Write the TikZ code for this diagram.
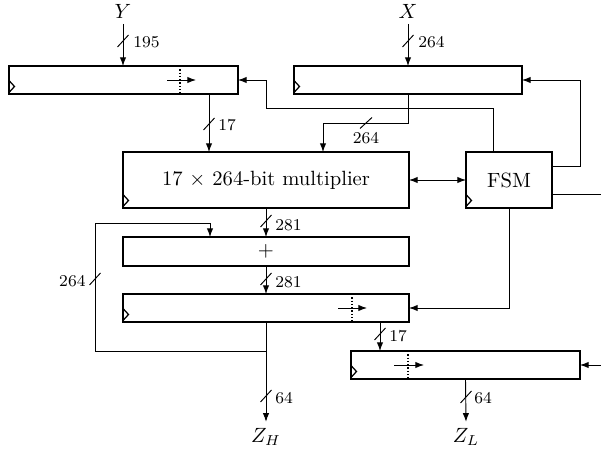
\documentclass[tikz,border=0pt]{standalone}
\usetikzlibrary{arrows.meta,calc}
\def\pxu{0.485pt}
\tikzset{
  x=0.485pt, y=-0.485pt,
  box/.style={draw, line width=0.7pt, inner sep=0pt, outer sep=0pt},
  wire/.style={line width=0.45pt},
  arr/.style={wire, -{Latex[length=4.2pt,width=3.1pt]}},
  darr/.style={wire, {Latex[length=4.2pt,width=3.1pt]}-{Latex[length=4.2pt,width=3.1pt]}},
  shiftmark/.style={line width=0.6pt, densely dotted},
  bus/.style={font=\footnotesize, inner sep=1pt},
  sigin/.style={inner sep=2.4pt},
  sigout/.style={inner sep=3pt},
}
\newcommand\clk[1]{\draw[line width=0.6pt] ($(#1.south west)+(0,-13.5)$) -- ++(5.5,6) -- ++(-5.5,6);}
\newcommand\vslash[2]{\draw[wire] (#1,#2) ++(-5.5,6) -- ++(11,-12);}
\begin{document}
\begin{tikzpicture}
\useasboundingbox (0,0) rectangle (601,449);
% boxes
\node[box, minimum width=229*\pxu, minimum height=28*\pxu] (regY) at (123.5,80) {};
\node[box, minimum width=228*\pxu, minimum height=28*\pxu] (regX) at (408,80) {};
\node[box, minimum width=286*\pxu, minimum height=56*\pxu] (mult) at (266,180) {17 $\times$ 264-bit multiplier};
\node[box, minimum width=86*\pxu, minimum height=56*\pxu] (fsm) at (509,180) {FSM};
\node[box, minimum width=286*\pxu, minimum height=29*\pxu] (add) at (266,251.5) {$+$};
\node[box, minimum width=286*\pxu, minimum height=28*\pxu] (regH) at (266,308) {};
\node[box, minimum width=229*\pxu, minimum height=28*\pxu] (regL) at (465.5,365) {};
% clocks
\clk{regY}\clk{regX}\clk{mult}\clk{fsm}\clk{regH}\clk{regL}
% shift marks
\draw[shiftmark] (regY.north -| 180,0) -- (regY.south -| 180,0);
\draw[arr] (167,80) -- (196,80);
\draw[shiftmark] (regH.north -| 352,0) -- (regH.south -| 352,0);
\draw[arr] (338,308) -- (367,308);
\draw[shiftmark] (regL.north -| 408,0) -- (regL.south -| 408,0);
\draw[arr] (394,365) -- (424,365);
% signal labels
\node[sigin] (Y) at (123,11.5) {$Y$};
\node[sigin] (X) at (408,11.5) {$X$};
\node[sigout] (ZH) at (266,437) {$Z_H$};
\node[sigout] (ZL) at (466,437) {$Z_L$};
\coordinate (fsmout) at (601,194);
\coordinate (inL) at (601,365);
% connectors
\draw[arr] (Y.south) -- (regY.north -| Y.south);
\draw[arr] (X.south) -- (regX.north);
\draw[arr] (regY.south -| 209,0) -- (mult.north -| 209,0);
\draw[arr] (regX.south) |- (323,123) -- (mult.north -| 323,0);
\draw[arr] (fsm.north -| 493,0) |- (266,108) |- (regY.east);
\draw[arr] (fsm.east |- 0,166) -- (580,166) |- (regX.east);
\draw[wire] (fsm.east |- fsmout) -- (fsmout);
\draw[darr] (mult.east) -- (fsm.west);
\draw[arr] (fsm.south) |- (regH.east);
\draw[arr] (mult.south) -- (add.north);
\draw[arr] (add.south) -- (regH.north);
\draw[arr] (regH.south) -- (ZH.north);
\coordinate (tap) at (regH.south |- 0,351);
\draw[arr] (tap) -| (95,223) -| (add.north -| 210,0);
\draw[arr] (regH.south -| 380,0) -- (regL.north -| 380,0);
\draw[arr] (regL.south) -- (ZL.north);
\draw[arr] (inL) -- (regL.east);
% bus slashes
\vslash{123}{41}
\vslash{408}{41}
\vslash{209}{124}
\draw[wire] (366,123) ++(-6,5.5) -- ++(12,-11);
\vslash{266}{221}
\vslash{266}{279}
\vslash{95}{279}
\vslash{380}{334}
\vslash{266}{396}
\vslash{466}{397}
% bus labels
\node[bus, anchor=west] (l195) at (131,42) {195};
\node[bus, anchor=west] (l264x) at (416,42) {264};
\node[bus, anchor=west] (l17a) at (216,125) {17};
\node[bus] (l264b) at (366,138) {264};
\node[bus, anchor=west] (l281a) at (273,225) {281};
\node[bus, anchor=west] (l281b) at (273,282) {281};
\node[bus, anchor=east] (l264c) at (88,281) {264};
\node[bus, anchor=west] (l17b) at (387,336) {17};
\node[bus, anchor=west] (l64a) at (273,398) {64};
\node[bus, anchor=west] (l64b) at (472,398) {64};
\end{tikzpicture}
\end{document}
